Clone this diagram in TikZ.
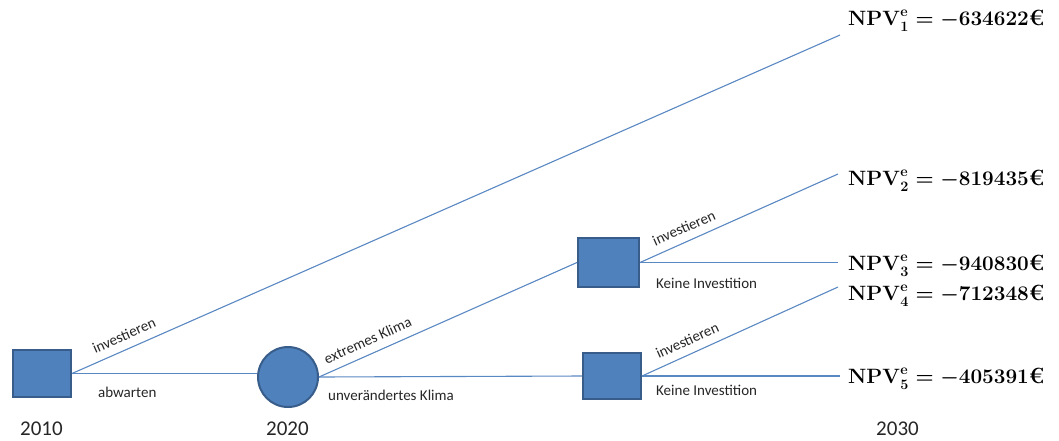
\documentclass[tikz,border=0pt]{standalone}
\usepackage{fontspec}
\newfontfamily\lbl{Carlito}
\usetikzlibrary{calc}
\definecolor{boxfill}{HTML}{4F81BD}
\definecolor{boxline}{HTML}{385D8A}
\definecolor{conn}{HTML}{5A88C2}
\definecolor{txt}{HTML}{262626}
\tikzset{
  dbox/.style={draw=boxline, line width=2pt, fill=boxfill, minimum width=#1, inner sep=0pt},
  chance/.style={circle, draw=boxline, line width=2pt, fill=boxfill, minimum size=60pt, inner sep=0pt},
  conn/.style={draw=conn, line width=1.1pt},
  lab/.style={font=\lbl\fontsize{15}{18}\selectfont, text=txt, inner sep=1pt},
  slab/.style={lab, sloped, above=7pt},
  year/.style={font=\lbl\fontsize{21}{25}\selectfont, text=txt, inner sep=0pt, anchor=base west},
  npv/.style={font=\fontsize{22}{26}\selectfont\bfseries, text=black, inner sep=0pt, anchor=base west}
}
\begin{document}
\begin{tikzpicture}[x=1pt, y=-1pt]
\useasboundingbox (0,0) rectangle (1059,440);
% decision and chance nodes
\node[dbox=58pt, minimum height=47pt] (s1) at (42,373.5) {};
\node[chance] (c) at (288,377) {};
\node[dbox=61pt, minimum height=49pt] (s2) at (608.5,262.5) {};
\node[dbox=58pt, minimum height=46pt] (s3) at (612,376) {};
% free ends
\coordinate (e1) at (840,35);
\coordinate (e2) at (838,174);
\coordinate (e3) at (838,262.5);
\coordinate (e4) at (838,287);
\coordinate (e5) at (840,376);
% connectors
\draw[conn] (s1.east) -- node[slab, pos=0.075] {investieren} (e1);
\draw[conn] (s1.east) -- (s1.east -| c.west);
\draw[conn] (c.east) -- node[slab, pos=0.21] {extremes Klima} (s2.west);
\draw[conn] (c.east) -- (s3.west);
\draw[conn] (s2.east) -- node[slab, pos=0.25] {investieren} (e2);
\draw[conn] (s2.east) -- (e3);
\draw[conn] (s3.east) -- node[slab, pos=0.26] {investieren} (e4);
\draw[conn] (s3.east) -- (e5);
% horizontal labels
\node[lab, anchor=base west] (la) at (97,397) {abwarten};
\node[lab, anchor=base west] (lu) at (327,400) {unverändertes Klima};
\node[lab, anchor=base west] (lk1) at (655,288) {Keine Investition};
\node[lab, anchor=base west] (lk2) at (655,395) {Keine Investition};
% years
\node[year] (y1) at (20,435) {2010};
\node[year] (y2) at (266,435) {2020};
\node[year] (y3) at (876,435) {2030};
% results
\node[npv] (n1) at (848,25) {{\boldmath$\mathbf{NPV}^{\mathbf{e}}_{\mathbf{1}}=-\mathbf{634622}$}€};
\node[npv] (n2) at (848,185) {{\boldmath$\mathbf{NPV}^{\mathbf{e}}_{\mathbf{2}}=-\mathbf{819435}$}€};
\node[npv] (n3) at (848,270) {{\boldmath$\mathbf{NPV}^{\mathbf{e}}_{\mathbf{3}}=-\mathbf{940830}$}€};
\node[npv] (n4) at (848,300) {{\boldmath$\mathbf{NPV}^{\mathbf{e}}_{\mathbf{4}}=-\mathbf{712348}$}€};
\node[npv] (n5) at (848,383) {{\boldmath$\mathbf{NPV}^{\mathbf{e}}_{\mathbf{5}}=-\mathbf{405391}$}€};
\end{tikzpicture}
\end{document}
